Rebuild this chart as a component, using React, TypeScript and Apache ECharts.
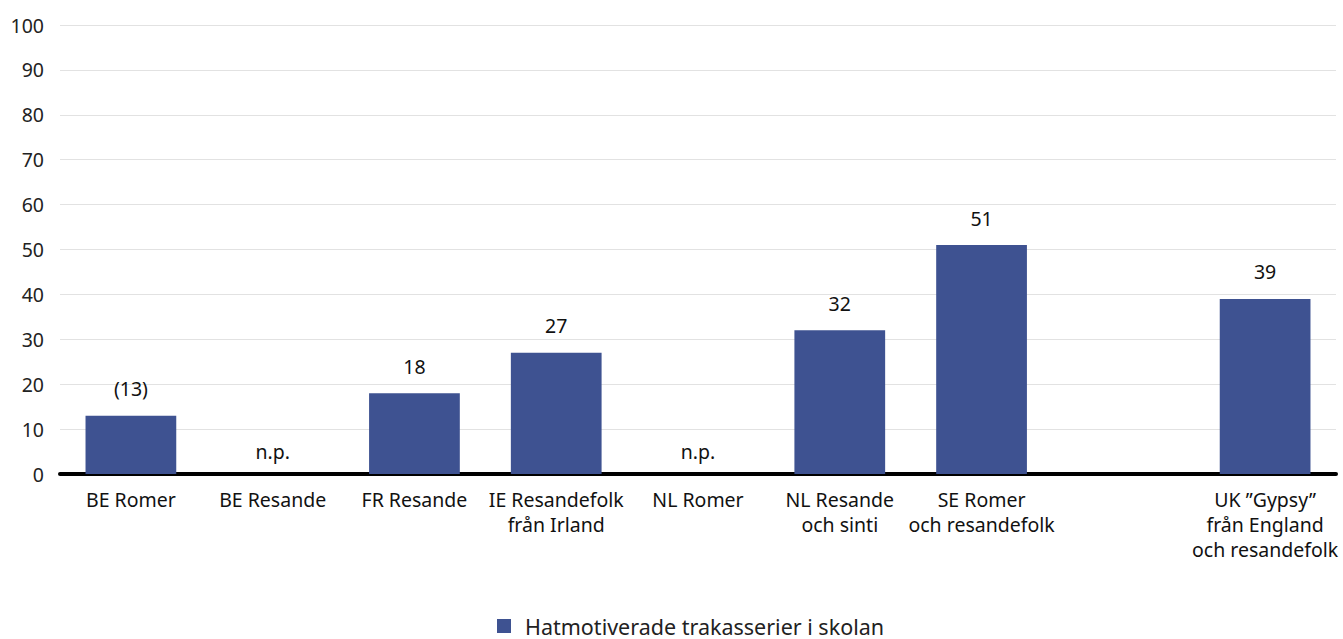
import React, { useEffect, useRef } from "react";
import * as echarts from "echarts";

const categories = [
  "BE Romer",
  "BE Resande",
  "FR Resande",
  "IE Resandefolk\nfrån Irland",
  "NL Romer",
  "NL Resande\noch sinti",
  "SE Romer\noch resandefolk",
  "",
  "UK ”Gypsy”\nfrån England\noch resandefolk",
];
const values: (number | null)[] = [13, null, 18, 27, null, 32, 51, null, 39];
const valueLabels: string[] = ["(13)", "n.p.", "18", "27", "n.p.", "32", "51", "", "39"];
const seriesName = "Hatmotiverade trakasserier i skolan";
const yTicks = [0, 100, 10];

const FONT = "'Noto Sans', sans-serif";

export default function App() {
  const ref = useRef<HTMLDivElement>(null);
  useEffect(() => {
    if (!ref.current) return;
    const chart = echarts.init(ref.current, undefined, { renderer: "svg" });
    const data = values.map((v, i) => {
      if (v === null) {
        if (valueLabels[i] === "") return { value: null };
        return {
          value: 0,
          label: { show: true, formatter: valueLabels[i], distance: 13 },
        };
      }
      return { value: v, label: { show: true, formatter: valueLabels[i] } };
    });
    chart.setOption({
      animation: false,
      textStyle: { fontFamily: FONT },
      grid: { left: 60, right: 7, top: 25, bottom: 165, containLabel: false },
      legend: {
        top: 615,
        left: 497,
        padding: 0,
        itemWidth: 14,
        itemHeight: 14,
        itemGap: 14,
        icon: "rect",
        textStyle: { fontSize: 21.5, color: "#222", fontFamily: FONT, padding: [0, 0, 0, 9] },
        data: [seriesName],
      },
      xAxis: {
        type: "category",
        data: categories,
        axisLine: { show: true, lineStyle: { color: "#000", width: 4 } },
        axisTick: { show: false },
        axisLabel: {
          interval: 0,
          fontSize: 19.5,
          color: "#111",
          lineHeight: 25,
          margin: 13,
          fontFamily: FONT,
        },
      },
      yAxis: {
        type: "value",
        min: yTicks[0],
        max: yTicks[1],
        interval: yTicks[2],
        axisLine: { show: false },
        axisTick: { show: false },
        splitLine: { lineStyle: { color: "#e2e2e2", width: 1 } },
        axisLabel: { fontSize: 19.5, color: "#222", margin: 16, fontFamily: FONT },
      },
      series: [
        {
          name: seriesName,
          type: "bar",
          data,
          barWidth: "64%",
          itemStyle: { color: "#3e5291" },
          label: {
            show: true,
            position: "top",
            distance: 17,
            fontSize: 19.5,
            color: "#111",
            fontFamily: FONT,
          },
        },
      ],
    });
    return () => chart.dispose();
  }, []);
  return (
    <div
      ref={ref}
      style={{ position: "absolute", left: 0, top: 0, width: 1343, height: 639 }}
    />
  );
}
